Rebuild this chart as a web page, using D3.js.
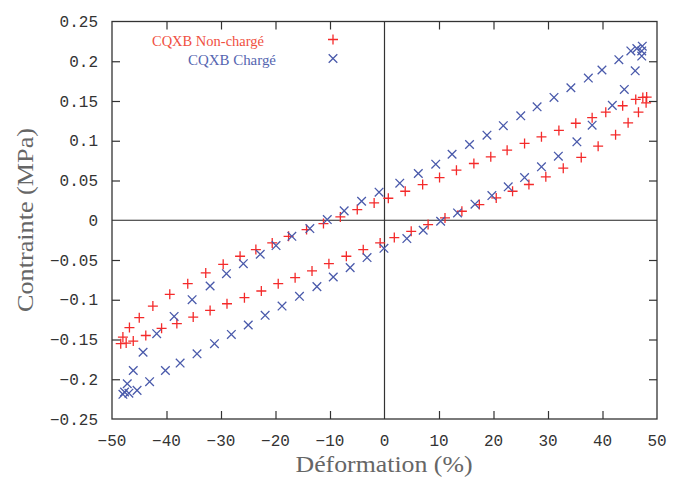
<!DOCTYPE html>
<html>
<head>
<meta charset="utf-8">
<script src="https://cdn.jsdelivr.net/npm/d3@7"></script>
<style>
  html, body { margin: 0; padding: 0; background: #fff; }
  svg { display: block; }
</style>
</head>
<body>
<svg id="chart" width="674" height="477"></svg>
<script>
// ---- Data ----
const seriesNames = ["CQXB Non-chargé", "CQXB Chargé"];

// Non-chargé (+): loading branch then unloading branch, [déformation %, contrainte MPa]
const nonChargeX = [
  -48.0, -46.8, -45.0, -42.5, -39.4, -36.1, -32.8, -29.6, -26.5, -23.6, -20.6, -17.6,
  -14.3, -11.2, -8.1, -5.0, -1.9, 0.7, 3.8, 7.0, 10.1, 13.2, 16.4, 19.5, 22.5, 25.7,
  28.8, 32.0, 35.1, 38.1, 40.6, 43.7, 46.1, 47.4, 48.1,
  48.0, 46.6, 44.7, 42.4, 39.2, 36.1, 32.8, 29.6, 26.5, 23.5, 20.5, 17.4, 14.2, 11.1,
  8.0, 4.9, 1.8, -0.8, -3.9, -7.0, -10.2, -13.3, -16.4, -19.5, -22.6, -25.7, -28.9,
  -32.0, -35.1, -38.1, -40.9, -43.8, -46.1, -47.4, -48.4
];
const nonChargeY = [
  -0.147, -0.135, -0.1226, -0.108, -0.0932, -0.0798, -0.0663, -0.0554, -0.0453, -0.0369, -0.0285, -0.0202,
  -0.0117, -0.0042, 0.0042, 0.0134, 0.0218, 0.0277, 0.0365, 0.0449, 0.0537, 0.063, 0.0714, 0.0798, 0.0882, 0.0966,
  0.105, 0.113, 0.122, 0.129, 0.136, 0.144, 0.152, 0.1545, 0.155,
  0.1477, 0.136, 0.1226, 0.1075, 0.0932, 0.079, 0.0655, 0.0546, 0.045, 0.0365, 0.0281, 0.0197, 0.0113, 0.0029,
  -0.0055, -0.0139, -0.0218, -0.0285, -0.037, -0.0453, -0.0546, -0.0638, -0.0722, -0.0798, -0.089, -0.0974, -0.105,
  -0.1134, -0.1218, -0.130, -0.136, -0.145, -0.152, -0.1545, -0.1553
];

// Chargé (x): loading branch then unloading branch
const chargeX = [
  -48.0, -47.7, -46.1, -44.3, -41.8, -38.6, -35.3, -32.0, -29.0, -25.9, -22.8, -19.9,
  -17.0, -13.7, -10.5, -7.4, -4.2, -1.0, 2.8, 6.2, 9.4, 12.4, 15.6, 18.8, 21.8, 25.0,
  28.0, 31.1, 34.2, 37.4, 39.9, 43.0, 45.2, 46.3, 47.3, 47.2,
  47.2, 46.0, 44.0, 41.8, 38.1, 35.3, 31.9, 28.8, 25.7, 22.7, 19.7, 16.6, 13.4, 10.3,
  7.1, 4.1, -0.1, -3.2, -6.3, -9.4, -12.4, -15.6, -18.8, -21.9, -25.0, -28.1, -31.2,
  -34.4, -37.5, -40.2, -43.1, -45.4, -46.9, -47.2
];
const chargeY = [
  -0.219, -0.216, -0.189, -0.166, -0.1427, -0.121, -0.0999, -0.0827, -0.0672, -0.0546, -0.0428, -0.0319,
  -0.0202, -0.0105, 0.0008, 0.0118, 0.0239, 0.0353, 0.0466, 0.0588, 0.0705, 0.083, 0.0953, 0.107, 0.119, 0.1314,
  0.1427, 0.1545, 0.1667, 0.1788, 0.189, 0.202, 0.213, 0.216, 0.219, 0.213,
  0.2065, 0.188, 0.1646, 0.1445, 0.1196, 0.0986, 0.0806, 0.0672, 0.0537, 0.042, 0.031, 0.0202, 0.0092, -0.0013,
  -0.0126, -0.023, -0.0353, -0.047, -0.0596, -0.0714, -0.0835, -0.0957, -0.108, -0.1196, -0.1318, -0.1436, -0.1553,
  -0.168, -0.1797, -0.189, -0.203, -0.214, -0.2175, -0.2057
];

const xTickValues = [-50, -40, -30, -20, -10, 0, 10, 20, 30, 40, 50];
const xTickLabels = ["\u221250", "\u221240", "\u221230", "\u221220", "\u221210", "0", "10", "20", "30", "40", "50"];
const yTickValues = [-0.25, -0.2, -0.15, -0.1, -0.05, 0, 0.05, 0.1, 0.15, 0.2, 0.25];
const yTickLabels = ["\u22120.25", "\u22120.2", "\u22120.15", "\u22120.1", "\u22120.05", "0", "0.05", "0.1", "0.15", "0.2", "0.25"];

const xTitle = "Déformation (%)";
const yTitle = "Contrainte (MPa)";

// ---- Drawing ----
const RED = "#f42a2a";
const BLUE = "#4a5aab";
const svg = d3.select("#chart");
const L = 112, R = 657, T = 21.5, B = 419;
const x = d3.scaleLinear().domain([-50, 50]).range([L, R]);
const y = d3.scaleLinear().domain([-0.25, 0.25]).range([B, T]);

const tickFont = "'Liberation Mono', 'DejaVu Sans Mono', monospace";
const serif = "'Liberation Serif', 'DejaVu Serif', serif";

// zero lines
svg.append("line").attr("x1", L).attr("x2", R).attr("y1", y(0)).attr("y2", y(0))
  .attr("stroke", "#222").attr("stroke-width", 1.1);
svg.append("line").attr("x1", x(0)).attr("x2", x(0)).attr("y1", T).attr("y2", B)
  .attr("stroke", "#333").attr("stroke-width", 1.2);

function styleAxis(g) {
  g.select(".domain").remove();
  g.selectAll(".tick line").attr("stroke", "#333").attr("stroke-width", 1.2);
  g.selectAll(".tick text").remove();
}
const innerX = xTickValues.filter(v => v > -50 && v < 50 && v !== 0);
const innerY = yTickValues.filter(v => v > -0.25 && v < 0.25 && v !== 0);

svg.append("g").attr("transform", `translate(0,${B})`)
  .call(d3.axisBottom(x).tickValues(innerX).tickSize(-8)).call(styleAxis);
svg.append("g").attr("transform", `translate(0,${T})`)
  .call(d3.axisTop(x).tickValues(innerX).tickSize(-8)).call(styleAxis);
svg.append("g").attr("transform", `translate(${L},0)`)
  .call(d3.axisLeft(y).tickValues(innerY).tickSize(-8)).call(styleAxis);
svg.append("g").attr("transform", `translate(${R},0)`)
  .call(d3.axisRight(y).tickValues(innerY).tickSize(-8)).call(styleAxis);

// border
svg.append("rect").attr("x", L).attr("y", T).attr("width", R - L).attr("height", B - T)
  .attr("fill", "none").attr("stroke", "#333").attr("stroke-width", 1.3);

// tick labels
svg.append("g").selectAll("text").data(xTickValues).join("text")
  .attr("x", d => x(d)).attr("y", 446)
  .attr("text-anchor", "middle")
  .attr("font-family", tickFont).attr("font-size", 16).attr("fill", "#333")
  .text((d, i) => xTickLabels[i]);
svg.append("g").selectAll("text").data(yTickValues).join("text")
  .attr("x", 98).attr("y", d => y(d) + 5.5)
  .attr("text-anchor", "end")
  .attr("font-family", tickFont).attr("font-size", 16).attr("fill", "#333")
  .text((d, i) => yTickLabels[i]);

// axis titles
svg.append("text").attr("x", 384).attr("y", 472)
  .attr("text-anchor", "middle").attr("font-family", serif).attr("font-size", 23)
  .attr("fill", "#666").attr("textLength", 177).attr("lengthAdjust", "spacingAndGlyphs")
  .text(xTitle);
svg.append("text").attr("transform", "translate(33,220) rotate(-90)")
  .attr("text-anchor", "middle").attr("font-family", serif).attr("font-size", 23)
  .attr("fill", "#666").attr("textLength", 184).attr("lengthAdjust", "spacingAndGlyphs")
  .text(yTitle);

// markers
const plusPath = "M-5,0H5M0,-5V5";
const crossPath = "M-4.3,-4.3L4.3,4.3M-4.3,4.3L4.3,-4.3";

const ptsA = nonChargeX.map((v, i) => [v, nonChargeY[i]]);
const ptsB = chargeX.map((v, i) => [v, chargeY[i]]);

svg.append("g").selectAll("path").data(ptsA).join("path")
  .attr("transform", d => `translate(${x(d[0])},${y(d[1])})`)
  .attr("d", plusPath).attr("stroke", RED).attr("stroke-width", 1.3).attr("fill", "none");
svg.append("g").selectAll("path").data(ptsB).join("path")
  .attr("transform", d => `translate(${x(d[0])},${y(d[1])})`)
  .attr("d", crossPath).attr("stroke", BLUE).attr("stroke-width", 1.3).attr("fill", "none");

// legend
svg.append("text").attr("x", 264).attr("y", 45.5).attr("text-anchor", "end")
  .attr("font-family", serif).attr("font-size", 14).attr("fill", "#f0503f")
  .attr("textLength", 112).attr("lengthAdjust", "spacingAndGlyphs")
  .text(seriesNames[0]);
svg.append("path").attr("transform", "translate(333,39.5)").attr("d", plusPath)
  .attr("stroke", RED).attr("stroke-width", 1.3).attr("fill", "none");
svg.append("text").attr("x", 276).attr("y", 64.5).attr("text-anchor", "end")
  .attr("font-family", serif).attr("font-size", 14).attr("fill", "#5565b0")
  .attr("textLength", 88).attr("lengthAdjust", "spacingAndGlyphs")
  .text(seriesNames[1]);
svg.append("path").attr("transform", "translate(333,58.5)").attr("d", crossPath)
  .attr("stroke", BLUE).attr("stroke-width", 1.3).attr("fill", "none");
</script>
</body>
</html>
